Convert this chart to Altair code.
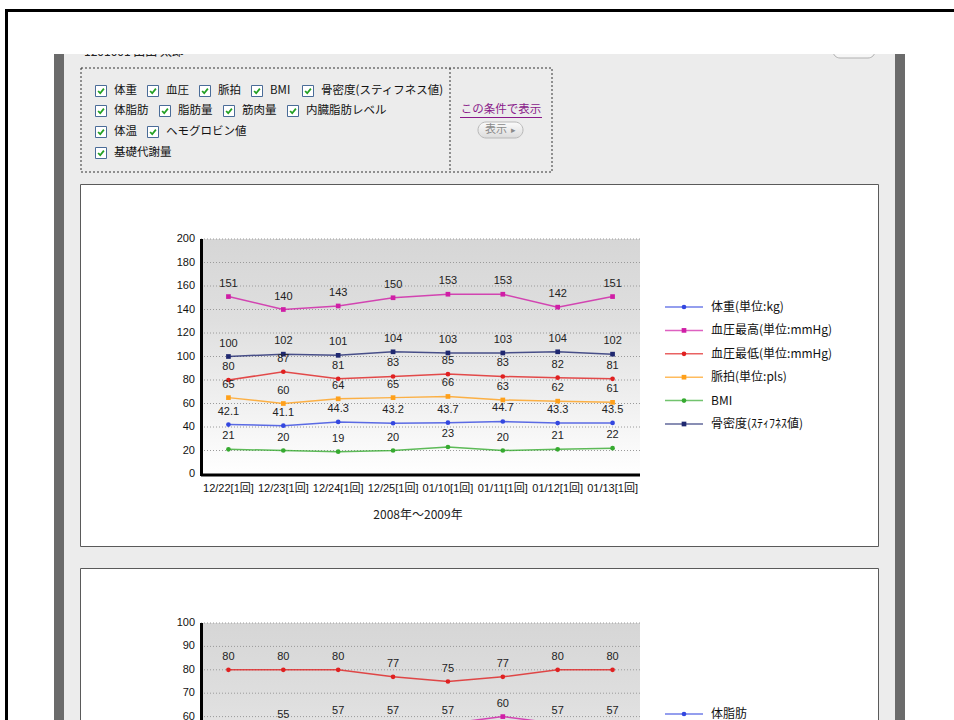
import altair as alt
import pandas as pd

LATIN = "'Liberation Sans', 'Noto Sans CJK JP', sans-serif"
JP = "'Noto Sans CJK JP', 'Liberation Sans', sans-serif"

# ---------------- data ----------------
dates = ["12/22[1回]", "12/23[1回]", "12/24[1回]", "12/25[1回]",
         "01/10[1回]", "01/11[1回]", "01/12[1回]", "01/13[1回]"]

vital_names = ["体重(単位:kg)", "血圧最高(単位:mmHg)", "血圧最低(単位:mmHg)",
               "脈拍(単位:pls)", "BMI", "骨密度(ｽﾃｨﾌﾈｽ値)"]
weight = [42.1, 41.1, 44.3, 43.2, 43.7, 44.7, 43.3, 43.5]
bp_high = [151, 140, 143, 150, 153, 153, 142, 151]
bp_low = [80, 87, 81, 83, 85, 83, 82, 81]
pulse = [65, 60, 64, 65, 66, 63, 62, 61]
bmi = [21, 20, 19, 20, 23, 20, 21, 22]
bone = [100, 102, 101, 104, 103, 103, 104, 102]
vital_decimals = [1, 0, 0, 0, 0, 0]

body_names = ["体脂肪", "脂肪量", "筋肉量"]
fat_mass = [None, 55, 57, 57, 57, 60, 57, 57]
muscle = [80, 80, 80, 77, 75, 77, 80, 80]

checkbox_rows = [
    ["体重", "血圧", "脈拍", "BMI", "骨密度(スティフネス値)"],
    ["体脂肪", "脂肪量", "筋肉量", "内臓脂肪レベル"],
    ["体温", "ヘモグロビン値"],
    ["基礎代謝量"],
]

# ---------------- styles ----------------
COLORS = ["#3347e0", "#d01ea6", "#e02020", "#ffa01a", "#36aa30", "#1f2870"]
SHAPES = ["circle", "square", "circle", "square", "circle", "square"]
X0, X1 = 201, 640

ONE = pd.DataFrame({"k": [0]})


def long_table(names, series, decimals):
    rows = []
    for name, vals, dec in zip(names, series, decimals):
        for d, v in zip(dates, vals):
            if v is None:
                continue
            rows.append({"date": d, "series": name, "value": v,
                         "label": f"{v:.{dec}f}"})
    return pd.DataFrame(rows)


def box(x0, x1, y0, y1, **style):
    return alt.Chart(ONE).mark_rect(**style).encode(
        x=alt.value(x0), x2=alt.value(x1), y=alt.value(y0), y2=alt.value(y1))


def label(x, y, text, **style):
    return alt.Chart(ONE).mark_text(**style).encode(
        x=alt.value(x), y=alt.value(y), text=alt.value(text))


def hline(x0, x1, y, **style):
    return alt.Chart(ONE).mark_rule(**style).encode(
        x=alt.value(x0), x2=alt.value(x1), y=alt.value(y))


def vline(x, y0, y1, **style):
    return alt.Chart(ONE).mark_rule(**style).encode(
        x=alt.value(x), y=alt.value(y0), y2=alt.value(y1))


plot_fill = alt.Gradient(
    gradient="linear", x1=0, x2=0, y1=0, y2=1,
    stops=[alt.GradientStop(color="#d6d6d6", offset=0),
           alt.GradientStop(color="#dfdfdf", offset=0.35),
           alt.GradientStop(color="#ffffff", offset=1)])


def panel(df, names, colors, shapes, ymax, ystep, top, bottom):
    xscale = alt.Scale(type="point", domain=dates, range=[X0, X1], padding=0.5)
    yscale = alt.Scale(domain=[0, ymax], range=[bottom, top], nice=False)
    x = alt.X("date:N", scale=xscale, axis=None)
    y = alt.Y("value:Q", scale=yscale, axis=None)
    color = alt.Color("series:N", scale=alt.Scale(domain=names, range=colors), legend=None)
    shape = alt.Shape("series:N", scale=alt.Scale(domain=names, range=shapes), legend=None)

    ticks = pd.DataFrame({"value": list(range(0, ymax + 1, ystep))})
    grid = alt.Chart(ticks[ticks.value > 0]).mark_rule(
        color="#9a9a9a", strokeDash=[1, 2], strokeWidth=1).encode(
        y=y, x=alt.value(X0), x2=alt.value(X1))
    tick_text = alt.Chart(ticks).mark_text(
        align="right", baseline="middle", fontSize=11, font=LATIN, color="#111").encode(
        y=y, x=alt.value(195), text="value:Q")
    date_text = alt.Chart(pd.DataFrame({"date": dates})).mark_text(
        baseline="middle", fontSize=11, font=LATIN, color="#111").encode(
        x=x, y=alt.value(bottom + 15), text="date:N")

    base = alt.Chart(df)
    lines = base.mark_line(strokeWidth=1.5, opacity=0.8).encode(x=x, y=y, color=color)
    points = base.mark_point(filled=True, size=22, opacity=1).encode(
        x=x, y=y, color=color, shape=shape)
    values = base.mark_text(dy=-13, fontSize=11, font=LATIN, color="#222").encode(
        x=x, y=y, text="label:N")

    return alt.layer(
        box(X0, X1, top, bottom, fill=plot_fill),
        grid, tick_text, date_text, lines, points, values,
        vline(X0 + 0.5, top, bottom + 2, color="black", strokeWidth=3),
        hline(X0, X1, bottom + 1, color="black", strokeWidth=3),
    )


def legend(names, colors, shapes, first_y, step):
    yscale = alt.Scale(type="point", domain=names, padding=0,
                       range=[first_y, first_y + step * (len(names) - 1)])
    y = alt.Y("series:N", scale=yscale, axis=None)
    color = alt.Color("series:N", scale=alt.Scale(domain=names, range=colors), legend=None)
    shape = alt.Shape("series:N", scale=alt.Scale(domain=names, range=shapes), legend=None)
    base = alt.Chart(pd.DataFrame({"series": names}))
    return alt.layer(
        base.mark_rule(strokeWidth=1.5, opacity=0.7).encode(
            y=y, x=alt.value(665), x2=alt.value(703), color=color),
        base.mark_point(filled=True, size=22, opacity=1).encode(
            y=y, x=alt.value(684), color=color, shape=shape),
        base.mark_text(align="left", baseline="middle", fontSize=12, font=JP,
                       color="#111").encode(y=y, x=alt.value(711), text="series:N"),
    )


def checkbox(cx, cy, text):
    return [
        box(cx - 5.5, cx + 5.5, cy - 5.5, cy + 5.5, fill="white",
            stroke="#4a6c98", strokeWidth=1),
        alt.Chart(ONE).mark_point(
            shape="M-0.55,0 L-0.15,0.42 L0.55,-0.45", size=110, filled=False,
            stroke="#23a023", strokeWidth=1.8, opacity=1).encode(
            x=alt.value(cx), y=alt.value(cy)),
        label(cx + 13, cy, text, align="left", baseline="middle",
              fontSize=11.5, font=JP, color="#111"),
    ]


# ---------------- page chrome ----------------
layers = [
    box(0, 954, 0, 720, fill="white"),
    box(54, 905, 40, 720, fill="#6b6b6b"),
    box(64, 895, 40, 720, fill="#ececec"),
    label(84, 56, "1201001 山田 太郎", align="left", baseline="alphabetic",
          fontSize=12, font=JP, color="#222"),
    box(833, 875, 40, 58, fill="#f6f6f6", stroke="#b0b0b0", strokeWidth=1,
        cornerRadius=7),
    box(8, 954, 12, 54, fill="white"),
]

# selection panel
layers += [
    box(81, 552, 68, 172, fill="#ececec", stroke="#333333", strokeWidth=1,
        strokeDash=[2, 2]),
    vline(450, 68, 172, color="#333333", strokeWidth=1, strokeDash=[2, 2]),
]
row_y = [91, 111, 132, 153]
box_x = [[101, 153, 205, 257, 308],
         [101, 165, 229, 293],
         [101, 153],
         [101]]
for ry, xs, texts in zip(row_y, box_x, checkbox_rows):
    for bx, t in zip(xs, texts):
        layers += checkbox(bx, ry, t)

layers += [
    label(501, 110, "この条件で表示", align="center", baseline="middle",
          fontSize=11.5, font=JP, color="#8a1a8a"),
    hline(460, 542, 117.5, color="#8a1a8a", strokeWidth=1),
    box(478, 523, 122, 138, fill=alt.Gradient(
        gradient="linear", x1=0, x2=0, y1=0, y2=1,
        stops=[alt.GradientStop(color="#fbfbfb", offset=0),
               alt.GradientStop(color="#dcdcdc", offset=1)]),
        stroke="#b8b8b8", strokeWidth=1, cornerRadius=8),
    label(496, 130, "表示", align="center", baseline="middle",
          fontSize=11, font=JP, color="#8a8a8a"),
    label(513, 130, "▸", align="center", baseline="middle",
          fontSize=9, font=JP, color="#8a8a8a"),
]

# chart boxes
layers += [
    box(80.5, 878.5, 184.5, 546.5, fill="white", stroke="#5a5a5a", strokeWidth=1),
    box(80.5, 878.5, 568.5, 760, fill="white", stroke="#5a5a5a", strokeWidth=1),
]

# ---------------- charts ----------------
vitals = long_table(vital_names, [weight, bp_high, bp_low, pulse, bmi, bone],
                    vital_decimals)
body = long_table(body_names[1:], [fat_mass, muscle], [0, 0])

layers += [
    panel(vitals, vital_names, COLORS, SHAPES, 200, 20, 239, 474),
    label(418, 515, "2008年～2009年", align="center", baseline="middle",
          fontSize=12, font=JP, color="#222"),
    legend(vital_names, COLORS, SHAPES, 307, 23.4),
    panel(body, body_names, COLORS[:3], SHAPES[:3], 100, 10, 623, 857),
    legend(body_names, COLORS[:3], SHAPES[:3], 714, 23.4),
]

# outer frame
layers += [
    box(5, 954, 9, 12, fill="black"),
    box(5, 8, 9, 720, fill="black"),
]

chart = alt.layer(*layers).resolve_scale(
    x="independent", y="independent", color="independent", shape="independent"
).properties(
    width=954, height=720, padding=0,
    autosize=alt.AutoSizeParams(type="none"), background="white",
).configure_view(stroke=None)

chart.save("out.html", embed_options={"renderer": "svg", "actions": False})
